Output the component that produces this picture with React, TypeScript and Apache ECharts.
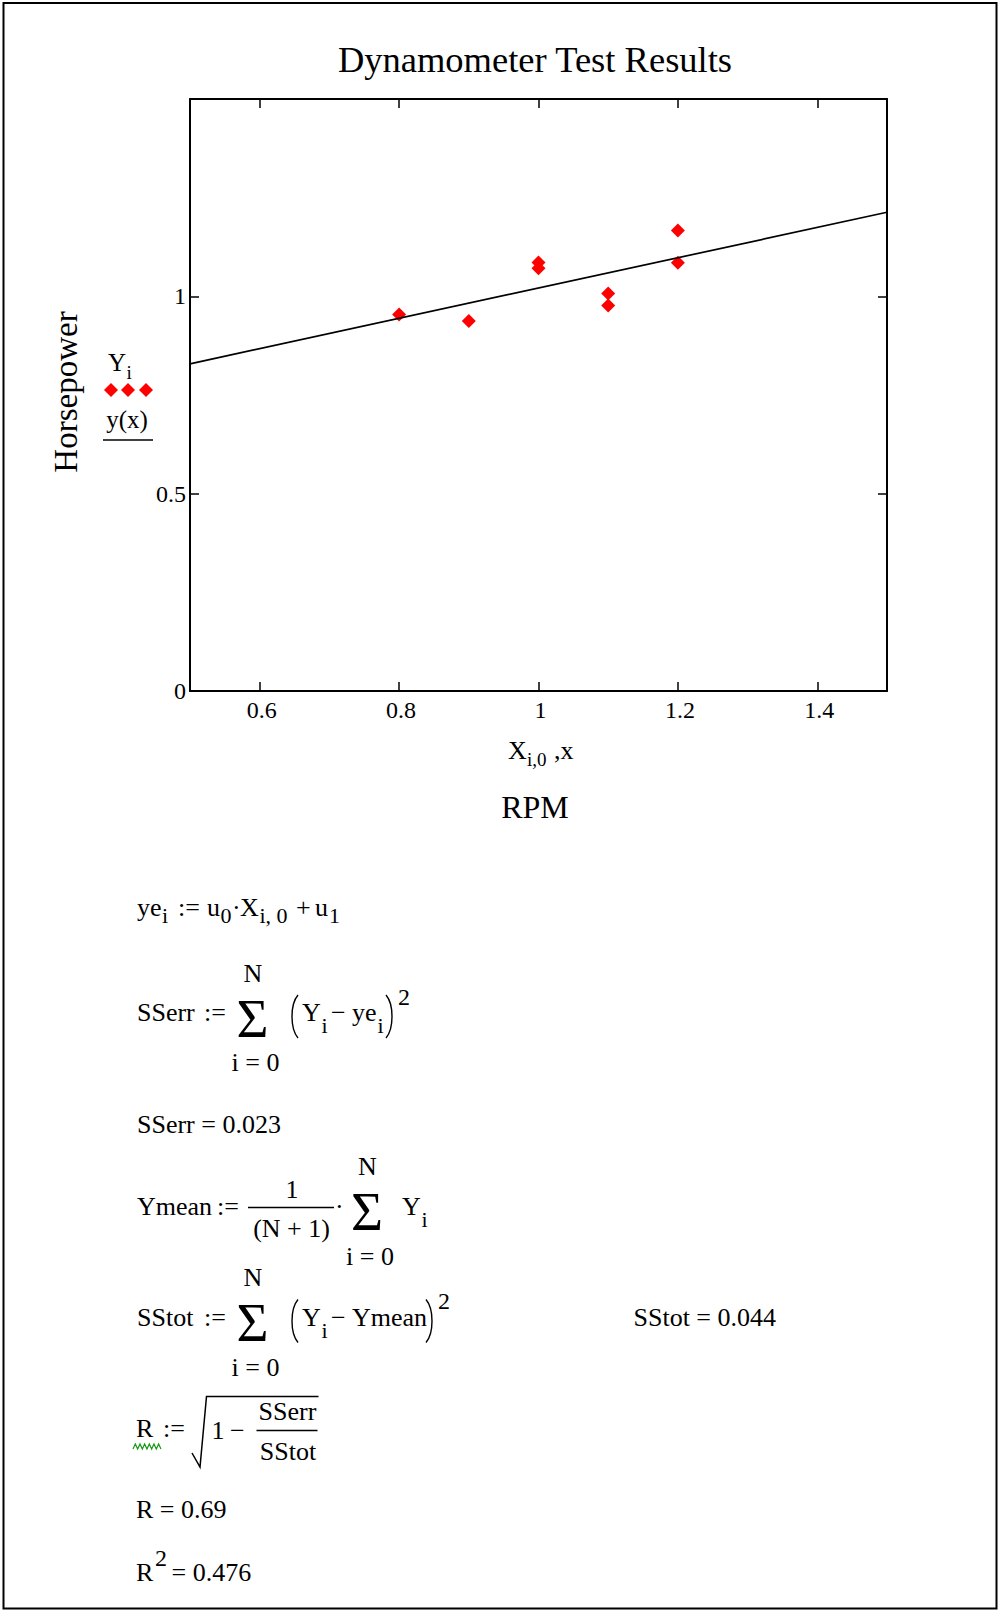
import React, { useEffect, useRef } from "react";
import * as echarts from "echarts";

// ---- data ----
const rpm = [0.8, 0.9, 1.0, 1.0, 1.1, 1.1, 1.2, 1.2];
const horsepower = [0.954, 0.9375, 1.086, 1.071, 1.007, 0.977, 1.167, 1.085];
const fitRpm = [0.5, 1.5];
const fitHorsepower = [0.829, 1.213];
const xTickValues = [0.6, 0.8, 1.0, 1.2, 1.4];
const yLabelValues = [0, 0.5, 1];
const yTickValues = [0.5, 1];
const ssErrValue = "0.023";
const ssTotValue = "0.044";
const rValue = "0.69";
const r2Value = "0.476";

const SERIF = '"Liberation Serif", "Times New Roman", serif';
const BLACK = "#000000";
const RED = "#ff0000";

function T(text: string, x: number, y: number, size: number, opt: any = {}) {
  const el: any = {
    type: "text",
    x,
    y,
    silent: true,
    style: {
      text,
      fontSize: size,
      fontFamily: SERIF,
      fill: opt.fill || BLACK,
      align: opt.align || "left",
      verticalAlign: "middle",
    },
  };
  if (opt.rotation) el.rotation = opt.rotation;
  return el;
}

function L(x1: number, y1: number, x2: number, y2: number, w = 1.5, color = BLACK) {
  return { type: "line", silent: true, shape: { x1, y1, x2, y2 }, style: { stroke: color, lineWidth: w } };
}

function PL(points: number[][], w = 1.5, color = BLACK) {
  return { type: "polyline", silent: true, shape: { points }, style: { stroke: color, lineWidth: w, fill: null } };
}

// tall parenthesis drawn as a curve; dir = 1 for "(", -1 for ")"
function paren(x: number, top: number, bottom: number, dir: number) {
  const h = bottom - top;
  const xo = dir === 1 ? x + 8 : x;
  const xi = dir === 1 ? x : x + 8;
  return {
    type: "bezierCurve",
    silent: true,
    shape: { x1: xo, y1: top, x2: xo, y2: bottom, cpx1: xi, cpy1: top + h * 0.22, cpx2: xi, cpy2: bottom - h * 0.22 },
    style: { stroke: BLACK, lineWidth: 1.4, fill: null },
  };
}

function diamond(cx: number, cy: number, s: number) {
  const h = s / 2;
  return {
    type: "polygon",
    silent: true,
    shape: { points: [[cx, cy - h], [cx + h, cy], [cx, cy + h], [cx - h, cy]] },
    style: { fill: RED, stroke: null },
  };
}

function sumBlock(g: any[], cx: number, c: number, M: number) {
  g.push(T("N", cx + 0.5, c - 39.5, M, { align: "center" }));
  g.push(T("Σ", cx, c + 5.5, 55, { align: "center" }));
  g.push(T("i = 0", cx + 3, c + 50, M, { align: "center" }));
}

function buildGraphics() {
  const g: any[] = [];
  const M = 26; // main formula font
  const S = 22; // subscript font
  // outer frame
  g.push({ type: "rect", silent: true, shape: { x: 3.5, y: 3, width: 993, height: 1605.5 }, style: { fill: null, stroke: BLACK, lineWidth: 2 } });

  // title & axis names
  g.push(T("Dynamometer Test Results", 535, 59, 36.5, { align: "center" }));
  g.push(T("Horsepower", 66, 392, 33, { align: "center", rotation: Math.PI / 2 }));
  // legend
  g.push(T("Y", 108, 362, 25));
  g.push(T("i", 126.5, 372, 19));
  g.push(diamond(111, 390, 14));
  g.push(diamond(128, 390, 14));
  g.push(diamond(146, 390, 14));
  g.push(T("y(x)", 127, 419, 25, { align: "center" }));
  g.push(L(103, 440, 153, 440, 1.5));
  // x axis names
  g.push(T("X", 508, 750, 26));
  g.push(T("i,0", 527, 759, 19));
  g.push(T(",x", 554, 750, 26));
  g.push(T("RPM", 535, 807, 32, { align: "center" }));

  // Row 1: ye_i := u_0 · X_{i,0} + u_1
  const c1 = 907;
  g.push(T("ye", 137, c1, M));
  g.push(T("i", 162, c1 + 8, S));
  g.push(T(":=", 178, c1, M));
  g.push(T("u", 207, c1, M));
  g.push(T("0", 220.5, c1 + 8, S));
  g.push(T("·", 232, c1, M));
  g.push(T("X", 240, c1, M));
  g.push(T("i, 0", 259.5, c1 + 8, S));
  g.push(T("+", 296, c1, M));
  g.push(T("u", 315, c1, M));
  g.push(T("1", 329, c1 + 8, S));

  // Row 2: SSerr := sum (Y_i - ye_i)^2
  const c2 = 1012.5;
  g.push(T("SSerr", 137, c2, M));
  g.push(T(":=", 204, c2, M));
  sumBlock(g, 252.5, c2, M);
  g.push(paren(290, c2 - 17.5, c2 + 25.5, 1));
  g.push(T("Y", 302, c2, M));
  g.push(T("i", 321.5, c2 + 13, S));
  g.push(T("−", 331, c2, M));
  g.push(T("ye", 352, c2, M));
  g.push(T("i", 377.5, c2 + 13, S));
  g.push(paren(386, c2 - 17.5, c2 + 25.5, -1));
  g.push(T("2", 398, c2 - 16, 24));

  // Row 3
  g.push(T("SSerr = " + ssErrValue, 137, 1124, M));

  // Row 4: Ymean := 1/(N+1) · sum Y_i
  const c4 = 1206;
  g.push(T("Ymean", 137, c4, M));
  g.push(T(":=", 217, c4, M));
  g.push(T("1", 292, 1189, M, { align: "center" }));
  g.push(L(248, 1207.5, 334, 1207.5, 1.3));
  g.push(T("(N + 1)", 291.5, 1228.5, M, { align: "center" }));
  g.push(T("·", 335, c4, M));
  sumBlock(g, 367, c4, M);
  g.push(T("Y", 402, c4, M));
  g.push(T("i", 421.5, c4 + 13, S));

  // Row 5: SStot := sum (Y_i - Ymean)^2
  const c5 = 1317;
  g.push(T("SStot", 137, c5, M));
  g.push(T(":=", 204, c5, M));
  sumBlock(g, 252.5, c5, M);
  g.push(paren(290, c5 - 17.5, c5 + 25.5, 1));
  g.push(T("Y", 302, c5, M));
  g.push(T("i", 321.5, c5 + 13, S));
  g.push(T("−", 331, c5, M));
  g.push(T("Ymean", 352, c5, M));
  g.push(paren(426, c5 - 17.5, c5 + 25.5, -1));
  g.push(T("2", 438, c5 - 16, 24));
  g.push(T("SStot = " + ssTotValue, 633.5, c5, M));

  // Row 6: R := sqrt(1 - SSerr/SStot)
  const c6 = 1428;
  g.push(T("R", 136, c6, M));
  const sq: number[][] = [];
  for (let i = 0; i <= 12; i++) sq.push([133 + i * 2.33, i % 2 === 0 ? 1449 : 1444]);
  g.push(PL(sq, 1.2, "#1a9a1a"));
  g.push(T(":=", 163, c6, M));
  g.push(PL([[192, 1453], [200, 1467], [206.5, 1396.5], [318.5, 1396.5]], 1.5));
  g.push(T("1", 211.5, 1430, M));
  g.push(T("−", 230, 1430, M));
  g.push(L(256.5, 1430.5, 317.5, 1430.5, 1.3));
  g.push(T("SSerr", 287.5, 1411.5, M, { align: "center" }));
  g.push(T("SStot", 288, 1451, M, { align: "center" }));

  // Row 7, 8
  g.push(T("R = " + rValue, 136, 1509, M));
  g.push(T("R", 136, 1572.5, M));
  g.push(T("2", 155, 1557.5, 24));
  g.push(T("= " + r2Value, 171.5, 1572.5, M));
  return g;
}

const axisFont = { fontFamily: SERIF, fontSize: 24, color: BLACK };
const axisLineStyle = { show: true, onZero: false, lineStyle: { color: BLACK, width: 2 } };
const tickStyle = { color: BLACK, width: 1.5 };

function buildOption(): any {
  return {
    animation: false,
    backgroundColor: "#ffffff",
    grid: { left: 190, top: 99, width: 697, height: 592 },
    xAxis: [
      {
        type: "value",
        position: "bottom",
        min: 0.5,
        max: 1.5,
        axisLine: axisLineStyle,
        splitLine: { show: false },
        axisTick: { show: true, inside: true, length: 9, customValues: xTickValues, lineStyle: tickStyle },
        axisLabel: {
          ...axisFont,
          margin: 7,
          padding: [0, 0, 0, 4],
          customValues: xTickValues,
          formatter: (v: number) => String(+v.toFixed(2)),
        },
      },
      {
        type: "value",
        position: "top",
        min: 0.5,
        max: 1.5,
        axisLine: axisLineStyle,
        splitLine: { show: false },
        axisTick: { show: true, inside: true, length: 9, customValues: xTickValues, lineStyle: tickStyle },
        axisLabel: { show: false },
      },
    ],
    yAxis: [
      {
        type: "value",
        position: "left",
        min: 0,
        max: 1.5,
        axisLine: axisLineStyle,
        splitLine: { show: false },
        axisTick: { show: true, inside: true, length: 9, customValues: yTickValues, lineStyle: tickStyle },
        axisLabel: {
          ...axisFont,
          margin: 4,
          padding: [6, 0, 0, 0],
          customValues: yLabelValues,
          formatter: (v: number) => String(+v.toFixed(2)),
        },
      },
      {
        type: "value",
        position: "right",
        min: 0,
        max: 1.5,
        axisLine: axisLineStyle,
        splitLine: { show: false },
        axisTick: { show: true, inside: true, length: 9, customValues: yTickValues, lineStyle: tickStyle },
        axisLabel: { show: false },
      },
    ],
    series: [
      {
        type: "scatter",
        xAxisIndex: 0,
        yAxisIndex: 0,
        symbol: "diamond",
        symbolSize: 14,
        itemStyle: { color: RED, opacity: 1 },
        data: rpm.map((x, i) => [x, horsepower[i]]),
        z: 2,
      },
      {
        type: "line",
        xAxisIndex: 0,
        yAxisIndex: 0,
        showSymbol: false,
        symbol: "none",
        lineStyle: { color: BLACK, width: 1.7 },
        data: fitRpm.map((x, i) => [x, fitHorsepower[i]]),
        z: 3,
      },
    ],
    graphic: buildGraphics(),
  };
}

export default function App() {
  const ref = useRef<HTMLDivElement>(null);
  useEffect(() => {
    if (!ref.current) return;
    const chart = echarts.init(ref.current, null, { renderer: "svg" });
    chart.setOption(buildOption());
    return () => chart.dispose();
  }, []);
  return (
    <div
      ref={ref}
      style={{ position: "absolute", left: 0, top: 0, width: 998, height: 1610, background: "#ffffff" }}
    />
  );
}
